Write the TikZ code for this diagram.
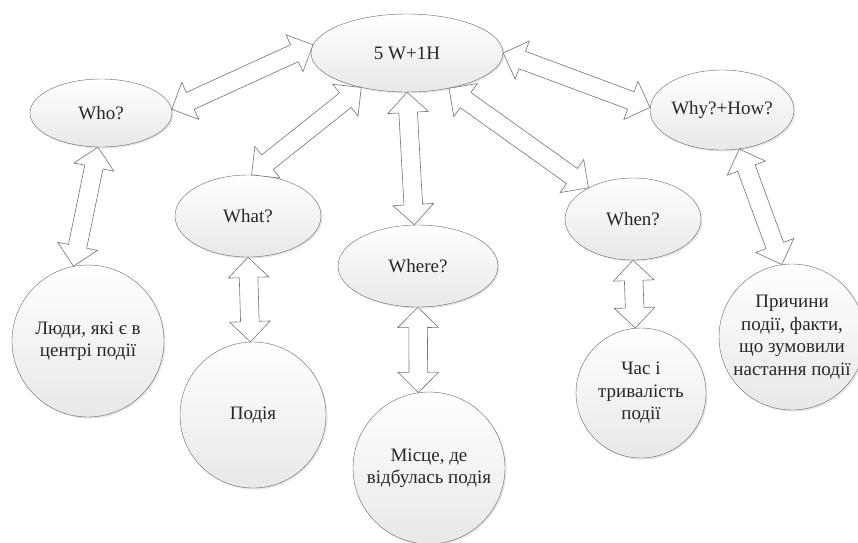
\documentclass[tikz,border=0pt]{standalone}
\usepackage{fontspec}
\setmainfont{Liberation Serif}
\usetikzlibrary{shapes.geometric,shapes.arrows,calc,shadows}

\begin{document}
\begin{tikzpicture}[
  x=1pt, y=-1pt,
  every node/.style={font=\fontsize{19}{22.5}\selectfont, text=black!85},
  ell/.style={ellipse, draw=black!60, top color=white, bottom color=gray!18,
              inner sep=0pt, align=center,
              drop shadow={opacity=0.2, shadow xshift=1.5pt, shadow yshift=-1.5pt}},
  circ/.style={circle, draw=black!60, top color=white, bottom color=gray!18,
               inner sep=0pt, align=center,
               drop shadow={opacity=0.2, shadow xshift=1.5pt, shadow yshift=-1.5pt}},
  dblarr/.style={double arrow, draw=black!55, line width=0.6pt, fill=white,
                 inner xsep=0pt, inner ysep=9pt,
                 double arrow head extend=11pt, double arrow tip angle=90},
  dbl/.style={to path={let \p1=($(\tikztotarget)-(\tikztostart)$),
                           \n1={atan2(\y1,\x1)}, \n2={veclen(\x1,\y1)} in
                       node[dblarr, rotate=\n1, minimum height=\n2]
                         at ($(\tikztostart)!0.5!(\tikztotarget)$) {}}}
]
\useasboundingbox (0,0) rectangle (858,542);

% question ellipses
\node[ell, minimum width=192pt, minimum height=78pt] (top)   at (407,53)  {5 W+1H};
\node[ell, minimum width=142pt, minimum height=68pt] (who)   at (101,113) {Who?};
\node[ell, minimum width=146pt, minimum height=82pt] (what)  at (248,216) {What?};
\node[ell, minimum width=160pt, minimum height=82pt] (where) at (418,266) {Where?};
\node[ell, minimum width=136pt, minimum height=82pt] (when)  at (633,219) {When?};
\node[ell, minimum width=144pt, minimum height=80pt] (why)   at (722,110) {Why?+How?};

% answer circles
\node[circ, minimum size=152pt] (people) at (88,341)  {Люди, які є в\\центрі події};
\node[circ, minimum size=146pt] (event)  at (253,415) {Подія};
\node[circ, minimum size=152pt] (place)  at (429,468) {Місце, де\\відбулась подія};
\node[circ, minimum size=130pt] (time)   at (641,393) {Час і\\тривалість\\події};
\node[circ, minimum size=146pt] (reason) at (792,337) {Причини\\події, факти,\\що зумовили\\настання події};

% block arrows
\path (top.175) to[dbl] (who.3);
\path (top.217) to[dbl] (what.85);
\path (top.270) to[dbl] (where.95);
\path (top.320) to[dbl] (when.145);
\path (top.0)   to[dbl] (why.178);
\path (who.265)  to[dbl] (people.101);
\path (what.270) to[dbl] (event.92);
\path (where.270) to[dbl] (place.98);
\path (when.270) to[dbl] (time.95);
\path (why.294)  to[dbl] (reason.98);
\end{tikzpicture}
\end{document}
